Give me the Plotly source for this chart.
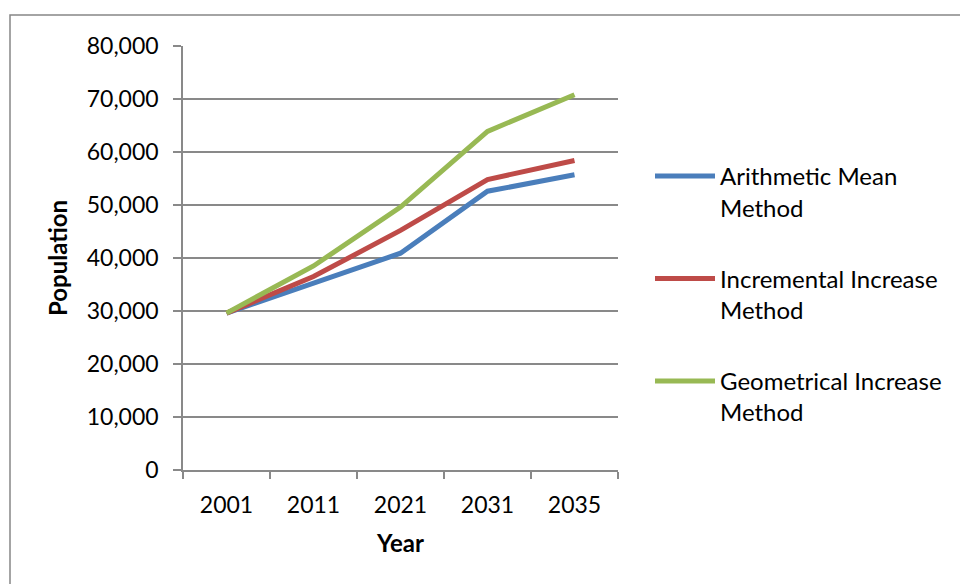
import plotly.graph_objects as go

# Population forecasts by method
years = ["2001", "2011", "2021", "2031", "2035"]
arithmetic_mean = [29600, 35200, 40900, 52600, 55700]
incremental_increase = [29600, 36500, 45200, 54800, 58400]
geometrical_increase = [29600, 38500, 49600, 63900, 70800]

series_names = [
    "Arithmetic Mean<br>Method",
    "Incremental Increase<br>Method",
    "Geometrical Increase<br>Method",
]
series_colors = ["#4A7EBB", "#BE4B48", "#98B954"]
series_values = [arithmetic_mean, incremental_increase, geometrical_increase]

FONT = "Lato"
GRID = "#898989"
TICK_SIZE = 23
LEGEND_SIZE = 24
TITLE_SIZE = 24

fig = go.Figure()
for i, (name, color, vals) in enumerate(zip(series_names, series_colors, series_values)):
    fig.add_trace(go.Scatter(
        x=years, y=vals, name=name, mode="lines",
        line=dict(color=color, width=5),
        legendgroup=f"g{i}",
    ))

# Plot area in pixels: x 183..618, y 46..470
L, R, T, B = 183, 618, 46, 470
W, H = 960, 584
pw, ph = R - L, B - T

def px_x(x):
    return (x - L) / pw

def px_y(y):
    return (B - y) / ph

# Outer chart frame
fig.add_shape(type="rect", xref="paper", yref="paper",
              x0=px_x(10), x1=px_x(980), y0=px_y(600), y1=px_y(15),
              line=dict(color="#868686", width=1.5), fillcolor="rgba(0,0,0,0)",
              layer="below")

fig.update_layout(
    width=W, height=H,
    margin=dict(l=L, r=W - R, t=T, b=H - B, pad=0),
    paper_bgcolor="white", plot_bgcolor="white",
    font=dict(family=FONT, size=TICK_SIZE, color="#000000"),
    showlegend=True,
    legend=dict(
        x=px_x(650), y=px_y(154), xanchor="left", yanchor="top",
        font=dict(family=FONT, size=LEGEND_SIZE, color="#000000"),
        tracegroupgap=37, valign="top", itemwidth=60,
        bgcolor="rgba(0,0,0,0)",
    ),
    xaxis=dict(
        type="category", range=[-0.5, 4.5],
        showgrid=False, showline=True, linecolor=GRID, linewidth=1.5,
        ticks="outside", tickson="boundaries", ticklen=7, tickcolor=GRID, tickwidth=1.5,
        ticklabelstandoff=14,
        tickfont=dict(family=FONT, size=TICK_SIZE),
        title=dict(text="<b>Year</b>", font=dict(family=FONT, size=TITLE_SIZE), standoff=18),
        zeroline=False,
    ),
    yaxis=dict(
        range=[0, 80000], dtick=10000, tickformat=",",
        showgrid=True, gridcolor=GRID, gridwidth=1.5,
        showline=True, linecolor=GRID, linewidth=1.5,
        ticks="outside", ticklen=8, tickcolor=GRID, tickwidth=1.5,
        ticklabelstandoff=10,
        tickfont=dict(family=FONT, size=TICK_SIZE),
        title=dict(text="<b>Population</b>", font=dict(family=FONT, size=TITLE_SIZE), standoff=12),
        zeroline=False,
    ),
)

fig.write_html("out.html")
